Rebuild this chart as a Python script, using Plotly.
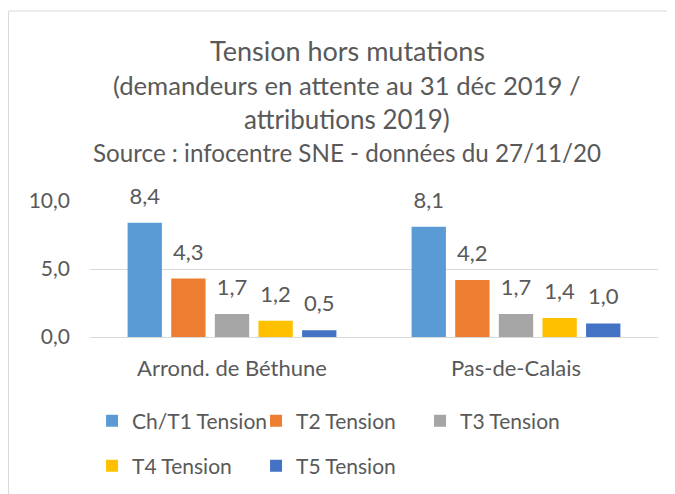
import plotly.graph_objects as go

categories = ["Arrond. de Béthune", "Pas-de-Calais"]
series_names = ["Ch/T1 Tension", "T2 Tension", "T3 Tension", "T4 Tension", "T5 Tension"]
series_values = [
    [8.4, 8.1],
    [4.3, 4.2],
    [1.7, 1.7],
    [1.2, 1.4],
    [0.5, 1.0],
]
y_ticks = [0, 5, 10]
title_lines = [
    "Tension hors mutations",
    "(demandeurs en attente au 31 déc 2019 /",
    "attributions 2019)",
    "Source : infocentre SNE - données du 27/11/20",
]

colors = ["#5B9BD5", "#ED7D31", "#A5A5A5", "#FFC000", "#4472C4"]
text_color = "#595959"
font_family = "Lato, 'Open Sans', sans-serif"

fig = go.Figure()

for i, name in enumerate(series_names):
    fig.add_trace(go.Bar(
        x=categories,
        y=series_values[i],
        name=name,
        marker=dict(color=colors[i], line=dict(width=0)),
        offsetgroup=str(i),
        legend="legend" if i < 3 else "legend2",
        hoverinfo="skip",
    ))

# data labels, lifted above the bars by an invisible marker
for i, name in enumerate(series_names):
    fig.add_trace(go.Scatter(
        x=categories,
        y=series_values[i],
        mode="markers+text",
        text=[f"{v:.1f}".replace(".", ",") for v in series_values[i]],
        textposition="top center",
        textfont=dict(size=22, color=text_color, family=font_family),
        marker=dict(size=20, color="rgba(0,0,0,0)"),
        offsetgroup=str(i),
        showlegend=False,
        cliponaxis=False,
        hoverinfo="skip",
    ))

# title lines
title_y = [2.110, 1.853, 1.603, 1.357]
title_sizes = [27, 25.7, 26, 24.2]
for line, yy, sz in zip(title_lines, title_y, title_sizes):
    fig.add_annotation(
        text=line, xref="paper", yref="paper", x=0.4525, y=yy,
        xanchor="center", yanchor="middle", showarrow=False,
        font=dict(size=sz, color=text_color, family=font_family),
    )

# chart frame (only top and left edges are inside the picture)
frame = dict(color="#D9D9D9", width=1)
fig.add_shape(type="line", xref="paper", yref="paper",
              x0=-0.1435, x1=1.2, y0=2.397, y1=2.397, line=frame, layer="below")
fig.add_shape(type="line", xref="paper", yref="paper",
              x0=-0.1435, x1=-0.1435, y0=-1.2, y1=2.397, line=frame, layer="below")

legend_style = dict(
    orientation="h",
    xanchor="left", yanchor="middle",
    font=dict(size=21, color=text_color, family=font_family),
    entrywidth=119, entrywidthmode="pixels",
    bgcolor="rgba(0,0,0,0)",
    itemclick=False, itemdoubleclick=False,
)

# page body has an 8px margin; the figure runs past the window's right/bottom edge
fig.update_layout(
    width=667, height=486,
    margin=dict(l=82, r=17, t=193, b=157, autoexpand=False),
    paper_bgcolor="white", plot_bgcolor="white",
    barmode="group", bargap=0.232, bargroupgap=0.213,
    scattermode="group", scattergap=0.232,
    separators=", ",
    font=dict(family=font_family, color=text_color),
    showlegend=True,
    legend=dict(x=0.0036, y=-0.618, **legend_style),
    legend2=dict(x=0.0036, y=-0.949, **legend_style),
    xaxis=dict(
        showgrid=False, showline=False, ticks="",
        tickfont=dict(size=22, color=text_color, family=font_family),
        ticklabelstandoff=16,
        fixedrange=True,
    ),
    yaxis=dict(
        range=[0, 10], tickvals=y_ticks, tickformat=".1f",
        showgrid=True, gridcolor="#D9D9D9", gridwidth=1,
        zeroline=True, zerolinecolor="#D9D9D9", zerolinewidth=1,
        showline=False, ticks="",
        tickfont=dict(size=21, color=text_color, family=font_family),
        ticklabelstandoff=19,
        fixedrange=True,
    ),
)

fig.write_html("out.html", config={"displayModeBar": False})
